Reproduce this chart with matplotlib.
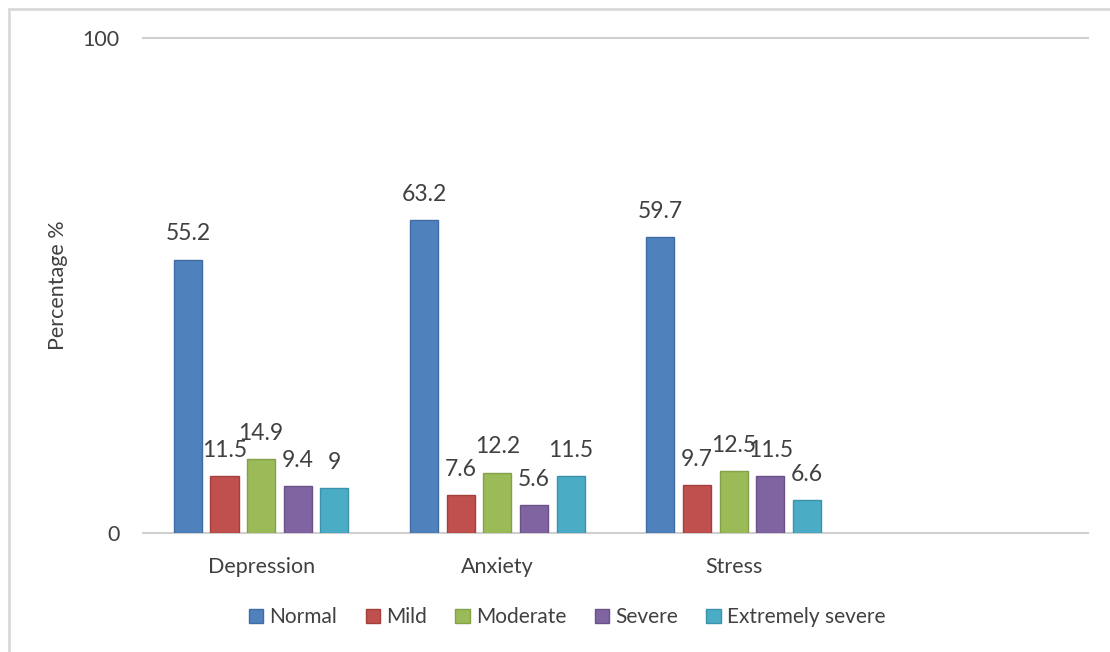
import numpy as np
import matplotlib
matplotlib.use("Agg")
from matplotlib import pyplot as plt
from matplotlib.patches import Rectangle

categories = ['Depression', 'Anxiety', 'Stress']
levels = ['Normal', 'Mild', 'Moderate', 'Severe', 'Extremely severe']
normal = [55.2, 63.2, 59.7]
mild = [11.5, 7.6, 9.7]
moderate = [14.9, 12.2, 12.5]
severe = [9.4, 5.6, 11.5]
extremely_severe = [9, 11.5, 6.6]

colors = ['#4F81BD', '#C0504D', '#9BBB59', '#8064A2', '#4BACC6']
edges = ['#3F6DA3', '#A33F3C', '#84A048', '#6A5289', '#3B93AB']

plt.rcParams['font.family'] = ['Lato', 'DejaVu Sans']
text_color = '#404040'

fig = plt.figure(figsize=(11.1, 6.52), dpi=100)
ax = fig.add_axes([0.1288, 0.1825, 0.8514, 0.7592])

series = [normal, mild, moderate, severe, extremely_severe]
x = np.arange(len(categories))
width = 0.119
step = 0.155
for i, (vals, lab) in enumerate(zip(series, levels)):
    pos = x + (i - 2) * step
    bars = ax.bar(pos, vals, width, color=colors[i], edgecolor=edges[i],
                  linewidth=1, label=lab, zorder=3)
    for b, v in zip(bars, vals):
        ax.annotate(f'{v:g}', (b.get_x() + b.get_width() / 2, v),
                    xytext=(0, 11), textcoords='offset points',
                    ha='center', va='bottom', fontsize=16.5, color=text_color)

ax.set_xlim(-0.5, 3.5)
ax.set_ylim(0, 100)
ax.set_yticks([0, 100])
ax.set_xticks(x)
ax.set_xticklabels(categories, fontsize=15.5, color=text_color)
ax.tick_params(axis='y', labelsize=15.5, labelcolor=text_color, length=0, pad=17)
ax.tick_params(axis='x', length=0, pad=17)
ax.axhline(100, color='#D0D0D0', linewidth=1.5, zorder=1, clip_on=False)

for s in ['top', 'right', 'left']:
    ax.spines[s].set_visible(False)
ax.spines['bottom'].set_color('#D0D0D0')
ax.spines['bottom'].set_linewidth(1.5)

ax.set_ylabel('Percentage %', fontsize=15.5, color=text_color, labelpad=10)

fig.legend(loc='center', bbox_to_anchor=(0.511, 0.053), ncol=5, frameon=False,
           fontsize=15, handlelength=0.7, handleheight=0.7, handletextpad=0.3,
           columnspacing=1.35, labelcolor=text_color)

# outer chart border (only top and left edges visible in the frame)
fig.patches.append(Rectangle((9 / 1110, -0.1), 1.2, 1 - 9 / 652 + 0.1,
                             transform=fig.transFigure, fill=False,
                             edgecolor='#D9D9D9', linewidth=2))

fig.savefig('out.png', dpi=100)
